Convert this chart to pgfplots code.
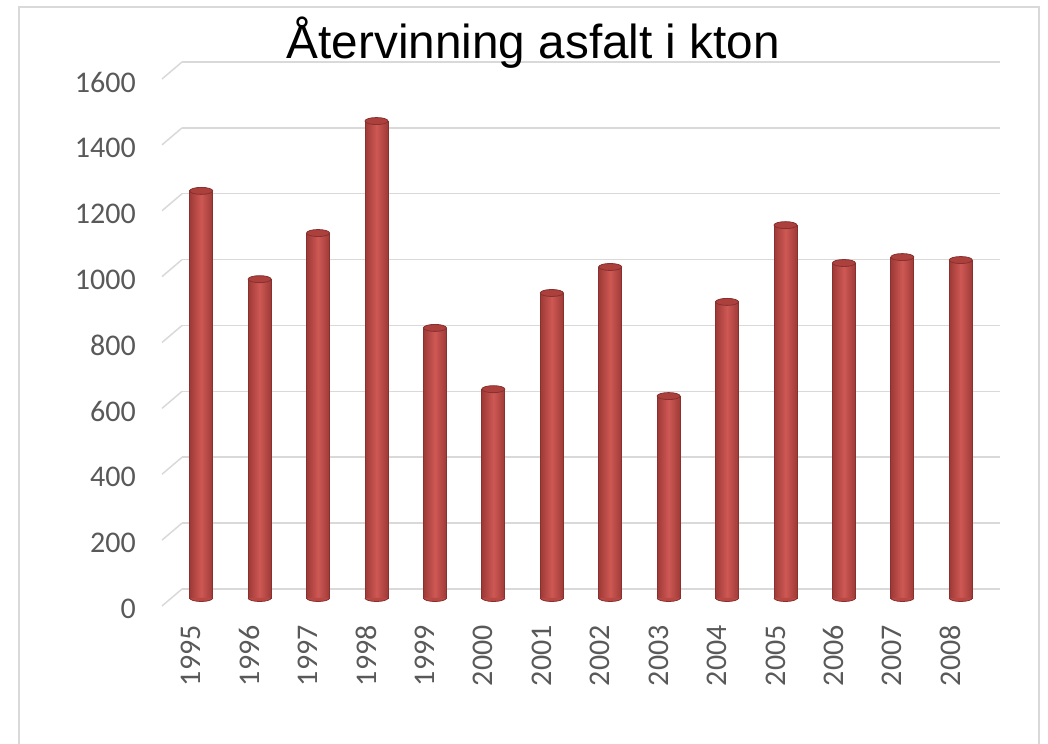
\documentclass[border=0pt]{standalone}
\usepackage{pgfplots}
\pgfplotsset{compat=1.18}
\usepackage{fontspec}
\setmainfont{Carlito}
\newfontfamily\titlefont{Liberation Sans}
\definecolor{gridc}{RGB}{217,217,217}
\definecolor{tickc}{RGB}{89,89,89}
\definecolor{barL}{RGB}{206,88,84}
\definecolor{barM}{RGB}{185,72,68}
\definecolor{barD}{RGB}{158,58,55}
\definecolor{barE}{RGB}{135,48,46}
\definecolor{barTop}{RGB}{172,64,60}
\pgfdeclareplotmark{cyltop}{\pgfpathellipse{\pgfpointorigin}{\pgfqpoint{11.5bp}{0pt}}{\pgfqpoint{0pt}{3.5bp}}\pgfusepathqfillstroke}
\pgfdeclareplotmark{cylbot}{%
  \pgfpathmoveto{\pgfqpoint{11.5bp}{0pt}}\pgfpatharc{0}{-180}{11.5bp and 3.5bp}\pgfpathclose\pgfusepathqfill
  \pgfpathmoveto{\pgfqpoint{11.5bp}{0pt}}\pgfpatharc{0}{-180}{11.5bp and 3.5bp}\pgfusepathqstroke}
\pgfplotsset{cylbar/.style={ybar, bar width=23bp, bar shift=0pt, draw=barE, line width=0.8bp,
  left color=barD, right color=barD, middle color=barL, xshift=10bp, yshift=8bp}}
\newcommand\cyl[2]{\addplot[cylbar] coordinates {(#1,#2)};}
\begin{document}
\begin{tikzpicture}
\useasboundingbox (0,0) rectangle (1048bp,744bp);
\draw[gridc, line width=2bp] (19bp,-5bp) -- (19bp,737bp) -- (1039bp,737bp) -- (1039bp,-5bp);
\foreach \i in {0,...,8} \draw[gridc, line width=1.5bp] (162bp,138bp+\i*65.875bp) -- ++(20bp,17bp);
\begin{axis}[
  at={(162bp,138bp)}, anchor=south west,
  scale only axis, width=818bp, height=527bp,
  xmin=-0.5, xmax=13.5, ymin=0, ymax=1600,
  xtick={0,...,13},
  xticklabels={1995,1996,1997,1998,1999,2000,2001,2002,2003,2004,2005,2006,2007,2008},
  ytick={0,200,...,1600},
  axis line style={draw=none}, major tick length=0pt,
  ymajorgrids, major grid style={gridc, line width=1.5bp, xshift=20bp, yshift=17bp},
  /pgf/number format/assume math mode=true,
  /pgf/number format/1000 sep={},
  tick label style={font=\fontsize{30bp}{36bp}\selectfont, text=tickc},
  yticklabel style={anchor=east, inner sep=0pt, yshift=-3bp}, yticklabel shift=26bp,
  xticklabel style={rotate=90, anchor=east, inner sep=0pt}, xticklabel shift=19bp,
  clip=false,
]
\cyl{0}{1236}
\cyl{1}{968}
\cyl{2}{1108}
\cyl{3}{1448}
\cyl{4}{820}
\cyl{5}{634}
\cyl{6}{926}
\cyl{7}{1005}
\cyl{8}{613}
\cyl{9}{899}
\cyl{10}{1132}
\cyl{11}{1017}
\cyl{12}{1035}
\cyl{13}{1026}
\addplot[only marks, mark=cylbot, mark options={fill=barM, draw=barE, line width=0.8bp}, xshift=10bp, yshift=8bp]
  coordinates {(0,0)(1,0)(2,0)(3,0)(4,0)(5,0)(6,0)(7,0)(8,0)(9,0)(10,0)(11,0)(12,0)(13,0)};
\addplot[only marks, mark=cyltop, mark options={fill=barTop, draw=barE, line width=0.8bp}, xshift=10bp, yshift=8bp]
  coordinates {(0,1236)(1,968)(2,1108)(3,1448)(4,820)(5,634)(6,926)(7,1005)(8,613)(9,899)(10,1132)(11,1017)(12,1035)(13,1026)};
\end{axis}
\node[anchor=base, font=\titlefont\fontsize{47.7bp}{56bp}\selectfont] at (533.5bp,685bp) {Återvinning asfalt i kton};
\end{tikzpicture}
\end{document}
